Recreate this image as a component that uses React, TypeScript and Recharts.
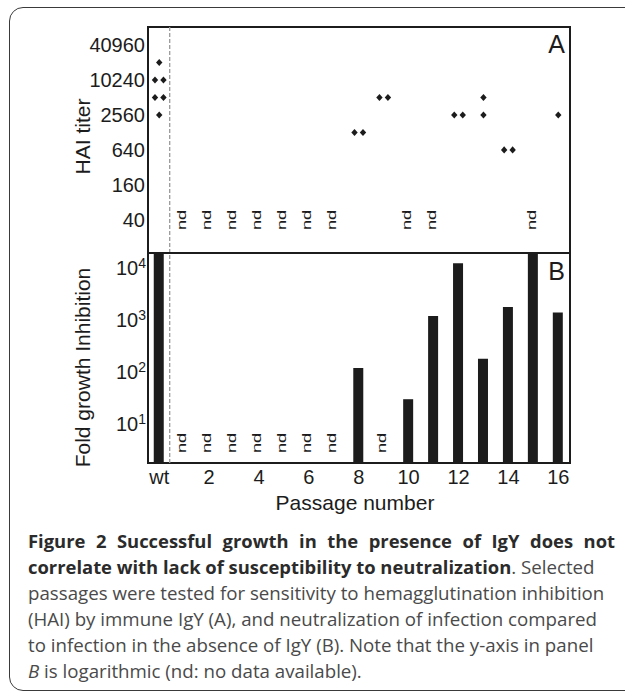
import {
  Bar,
  ComposedChart,
  ReferenceArea,
  ReferenceLine,
  Scatter,
  ScatterChart,
  XAxis,
  YAxis
} from "recharts";

// passage 0 is the wild type ("wt")
const passageTicks = [0, 2, 4, 6, 8, 10, 12, 14, 16];

// panel A: HAI titer per passage (one entry per diamond)
const haiPassages = [0, 0, 0, 0, 0, 0, 8, 8, 9, 9, 12, 12, 13, 13, 14, 14, 16];
const haiTiters = [20480, 10240, 10240, 5120, 5120, 2560, 1280, 1280, 5120, 5120, 2560, 2560, 5120, 2560, 640, 640, 2560];
const haiTicks = [40, 160, 640, 2560, 10240, 40960];
const haiMissing = [1, 2, 3, 4, 5, 6, 7, 10, 11, 15];

// panel B: fold growth inhibition (log scale); wt and 15 run off the top
const foldPassages = [0, 8, 10, 11, 12, 13, 14, 15, 16];
const foldValues = [20000, 120, 30, 1200, 12500, 180, 1800, 20000, 1400];
const foldTicks = [10, 100, 1000, 10000];
const foldMissing = [1, 2, 3, 4, 5, 6, 7, 9];

const X_DOMAIN: [number, number] = [-0.45, 16.47];
const HAI_DOMAIN: [number, number] = [10.8, 83600];
const FOLD_DOMAIN: [number, number] = [1.77, 19700];
const ND_LEVEL_A = 40;
const ND_LEVEL_B = 4.3;
const WT_DIVIDER = 0.42;
const PAIR_GAP = 0.34;

const FONT = "'Liberation Sans', Arial, Helvetica, sans-serif";
const INK = "#1c1c1c";

const haiPoints = haiPassages.map((p, i) => {
  const same = haiPassages
    .map((q, j) => (q === p && haiTiters[j] === haiTiters[i] ? j : -1))
    .filter((j) => j >= 0);
  const k = same.indexOf(i);
  const offset = same.length > 1 ? (k - (same.length - 1) / 2) * PAIR_GAP : 0;
  return { x: p + offset, y: haiTiters[i] };
});
const haiNd = haiMissing.map((p) => ({ x: p, y: ND_LEVEL_A }));
const foldData = foldPassages.map((p, i) => ({ x: p, value: foldValues[i] }));
const foldNd = foldMissing.map((p) => ({ x: p, value: ND_LEVEL_B }));

const Diamond = (props: any) => {
  const { cx, cy } = props;
  if (cx == null || cy == null) return null;
  return (
    <polygon
      points={`${cx},${cy - 3.6} ${cx + 3.2},${cy} ${cx},${cy + 3.6} ${cx - 3.2},${cy}`}
      fill={INK}
    />
  );
};

const NdMark = (props: any) => {
  const { cx, cy } = props;
  if (cx == null || cy == null) return null;
  return (
    <text
      transform={`translate(${cx - 2.5},${cy}) rotate(-90) scale(1.4,1)`}
      textAnchor="middle"
      dy="0.36em"
      fontSize={13}
      fontFamily={FONT}
      fill={INK}
    >
      nd
    </text>
  );
};

const PowerTick = (props: any) => {
  const { x, y, payload } = props;
  const exp = Math.round(Math.log10(payload.value));
  return (
    <text x={x} y={y} textAnchor="end" dy="0.355em" fontSize={20} fontFamily={FONT} fill={INK}>
      <tspan>10</tspan>
      <tspan dy={-7} fontSize={14}>
        {exp}
      </tspan>
    </text>
  );
};

const sideTitle = (text: string, shift: number) => (props: any) => {
  const vb = props.viewBox;
  const x = vb.x + 2;
  const y = vb.y + vb.height / 2 + shift;
  return (
    <text
      x={x}
      y={y}
      transform={`rotate(-90, ${x}, ${y})`}
      textAnchor="middle"
      fontSize={21}
      fontFamily={FONT}
      fill={INK}
    >
      {text}
    </text>
  );
};

const panelLetter = (letter: string, drop: number) => (props: any) => {
  const vb = props.viewBox;
  return (
    <text
      x={vb.x + vb.width - 5}
      y={vb.y + drop}
      textAnchor="end"
      fontSize={25}
      fontFamily={FONT}
      fill={INK}
    >
      {letter}
    </text>
  );
};

const passageTitle = (props: any) => {
  const vb = props.viewBox;
  return (
    <text
      x={vb.x + vb.width / 2 - 4}
      y={vb.y + 47}
      textAnchor="middle"
      fontSize={21}
      fontFamily={FONT}
      fill={INK}
    >
      Passage number
    </text>
  );
};

const HaiPanel = () => (
  <ScatterChart width={625} height={260} margin={{ top: 27, right: 55, bottom: 7, left: 88 }}>
    <XAxis type="number" dataKey="x" domain={X_DOMAIN} allowDataOverflow hide />
    <YAxis
      type="number"
      dataKey="y"
      scale="log"
      domain={HAI_DOMAIN}
      allowDataOverflow
      ticks={haiTicks}
      interval={0}
      width={60}
      axisLine={false}
      tickLine={false}
      tickSize={0}
      tickMargin={3}
      tick={{ fontSize: 20, fill: INK, fontFamily: FONT }}
      label={{ content: sideTitle("HAI titer", -3.5) }}
    />
    <ReferenceLine x={WT_DIVIDER} stroke="#9a9a9a" strokeWidth={1.3} strokeDasharray="4 2" />
    <ReferenceArea
      x1={X_DOMAIN[0]}
      x2={X_DOMAIN[1]}
      y1={HAI_DOMAIN[0]}
      y2={HAI_DOMAIN[1]}
      fill="none"
      stroke={INK}
      strokeWidth={2}
      ifOverflow="visible"
      label={{ content: panelLetter("A", 26) }}
    />
    <Scatter data={haiPoints} shape={Diamond} isAnimationActive={false} />
    <Scatter data={haiNd} shape={NdMark} isAnimationActive={false} />
  </ScatterChart>
);

const FoldPanel = () => (
  <ComposedChart
    width={625}
    height={300}
    data={foldData}
    margin={{ top: 13, right: 55, bottom: 0, left: 88 }}
  >
    <XAxis
      type="number"
      dataKey="x"
      domain={X_DOMAIN}
      allowDataOverflow
      ticks={passageTicks}
      interval={0}
      height={77}
      axisLine={false}
      tickLine={false}
      tickSize={0}
      tickMargin={7}
      tickFormatter={(v: number) => (v === 0 ? "wt" : String(v))}
      tick={{ fontSize: 20, fill: INK, fontFamily: FONT }}
      label={{ content: passageTitle }}
    />
    <YAxis
      type="number"
      scale="log"
      domain={FOLD_DOMAIN}
      allowDataOverflow
      ticks={foldTicks}
      interval={0}
      width={60}
      axisLine={false}
      tickLine={false}
      tickSize={0}
      tickMargin={2}
      tick={<PowerTick />}
      label={{ content: sideTitle("Fold growth Inhibition", 9.5) }}
    />
    <ReferenceLine x={WT_DIVIDER} stroke="#9a9a9a" strokeWidth={1.3} strokeDasharray="4 2" />
    <Bar dataKey="value" barSize={10} fill={INK} isAnimationActive={false} />
    <Scatter data={foldNd} dataKey="value" shape={NdMark} isAnimationActive={false} />
    <ReferenceArea
      x1={X_DOMAIN[0]}
      x2={X_DOMAIN[1]}
      y1={FOLD_DOMAIN[0]}
      y2={FOLD_DOMAIN[1]}
      fill="none"
      stroke={INK}
      strokeWidth={2}
      ifOverflow="visible"
      label={{ content: panelLetter("B", 27) }}
    />
  </ComposedChart>
);

const captionLine = { whiteSpace: "nowrap" as const, height: 26 };
const boldRun = { color: "#2b2b2b", fontSize: 18.4 };

export default function App() {
  return (
    <div
      style={{
        position: "absolute",
        left: 0,
        top: 0,
        width: 625,
        height: 693,
        overflow: "hidden",
        background: "#fff"
      }}
    >
      <div
        style={{
          position: "absolute",
          left: 9,
          top: 7,
          width: 640,
          height: 684,
          border: "1.5px solid #3a3a3a",
          borderRadius: 14,
          boxSizing: "border-box"
        }}
      />
      <div style={{ position: "absolute", left: 0, top: 0 }}>
        <HaiPanel />
      </div>
      <div style={{ position: "absolute", left: 0, top: 240 }}>
        <FoldPanel />
      </div>
      <div
        style={{
          position: "absolute",
          left: 28,
          top: 528,
          fontFamily: "'Open Sans', sans-serif",
          fontSize: 18.7,
          lineHeight: "26px",
          color: "#4a4a4a"
        }}
      >
        <div
          style={{
            ...boldRun,
            height: 26,
            width: 587,
            fontWeight: 700,
            textAlign: "justify",
            textAlignLast: "justify"
          }}
        >
          Figure 2 Successful growth in the presence of IgY does not
        </div>
        <div style={captionLine}>
          <b style={boldRun}>correlate with lack of susceptibility to neutralization</b>. Selected
        </div>
        <div style={captionLine}>passages were tested for sensitivity to hemagglutination inhibition</div>
        <div style={captionLine}>(HAI) by immune IgY (A), and neutralization of infection compared</div>
        <div style={captionLine}>to infection in the absence of IgY (B). Note that the y-axis in panel</div>
        <div style={captionLine}>
          <i>B</i> is logarithmic (nd: no data available).
        </div>
      </div>
    </div>
  );
}
